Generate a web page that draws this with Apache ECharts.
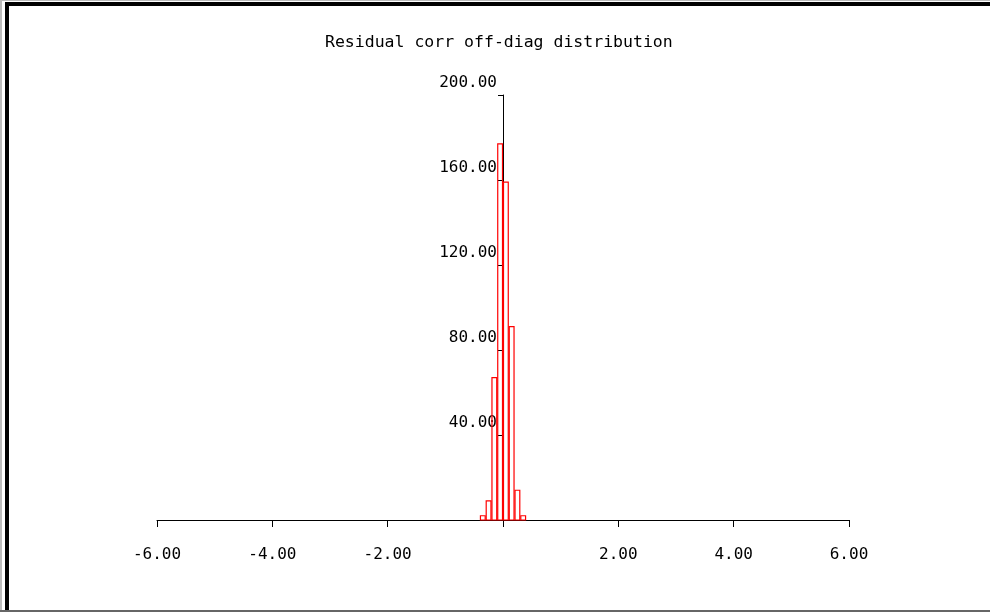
<!DOCTYPE html>
<html>
<head>
<meta charset="utf-8">
<script src="https://cdn.jsdelivr.net/npm/echarts@6/dist/echarts.min.js"></script>
<style>
  html, body { margin: 0; padding: 0; background: #fff; }
  #chart { width: 990px; height: 612px; }
</style>
</head>
<body>
<div id="chart"></div>
<script>
// histogram bins (left edge, right edge) and counts
const binLeft = [-0.4, -0.3, -0.2, -0.1, 0.0, 0.1, 0.2, 0.3]
const binRight = [-0.3, -0.2, -0.1, 0.0, 0.1, 0.2, 0.3, 0.4]
const counts = [2, 9, 67, 177, 159, 91, 14, 2]

const xTicks = [-6, -4, -2, 0, 2, 4, 6]
const yTicks = [0, 40, 80, 120, 160, 200]

const font = 'DejaVu Sans Mono'

const chart = echarts.init(document.getElementById('chart'))

const histData = binLeft.map((l, i) => [l, binRight[i], counts[i]])

// y axis sits on x = 0, so shift it right from the grid's left edge
const gridLeft = 157
const gridRight = 141
const plotW = 990 - gridLeft - gridRight
const yAxisShift = -plotW * (0 - xTicks[0]) / (xTicks[xTicks.length - 1] - xTicks[0])

const option = {
  backgroundColor: '#fff',
  animation: false,
  title: {
    text: 'Residual corr off-diag distribution',
    left: 320,
    top: 29,
    textStyle: { fontFamily: font, fontSize: 16.5, fontWeight: 'normal', color: '#000' }
  },
  grid: { left: gridLeft, right: gridRight, top: 95, bottom: 92 },
  xAxis: {
    type: 'value',
    min: xTicks[0],
    max: xTicks[xTicks.length - 1],
    interval: 2,
    splitLine: { show: false },
    axisLine: { lineStyle: { color: '#000', width: 1 } },
    axisTick: { length: 7, lineStyle: { color: '#000' } },
    axisLabel: {
      margin: 27,
      fontFamily: font,
      fontSize: 16,
      color: '#000',
      formatter: v => (v === 0 ? '' : v.toFixed(2))
    }
  },
  yAxis: {
    type: 'value',
    min: yTicks[0],
    max: yTicks[yTicks.length - 1],
    interval: 40,
    offset: yAxisShift,
    splitLine: { show: false },
    axisLine: { onZero: false, lineStyle: { color: '#000', width: 1 } },
    axisTick: { length: 5, lineStyle: { color: '#000' } },
    axisLabel: {
      margin: 6,
      fontFamily: font,
      fontSize: 16,
      color: '#000',
      verticalAlign: 'bottom',
      padding: [0, 0, 4, 0],
      formatter: v => (v === 0 ? '' : v.toFixed(2))
    }
  },
  series: [
    {
      type: 'custom',
      data: histData,
      renderItem: (params, api) => {
        const p0 = api.coord([api.value(0), 0])
        const p1 = api.coord([api.value(1), api.value(2)])
        return {
          type: 'rect',
          shape: { x: p0[0] + 0.5, y: p1[1], width: p1[0] - p0[0] - 1, height: p0[1] - p1[1] },
          style: { fill: 'none', stroke: '#ff0000', lineWidth: 1.2 }
        }
      }
    }
  ],
  graphic: [
    { type: 'rect', shape: { x: 0, y: 0, width: 2, height: 612 }, style: { fill: '#bbb' } },
    { type: 'rect', shape: { x: 0, y: 0, width: 990, height: 1 }, style: { fill: '#bbb' } },
    { type: 'rect', shape: { x: 5, y: 2, width: 4, height: 610 }, style: { fill: '#000' } },
    { type: 'rect', shape: { x: 5, y: 2, width: 985, height: 4 }, style: { fill: '#000' } },
    { type: 'rect', shape: { x: 0, y: 610, width: 990, height: 2 }, style: { fill: '#666' } }
  ]
}

chart.setOption(option)
</script>
</body>
</html>
